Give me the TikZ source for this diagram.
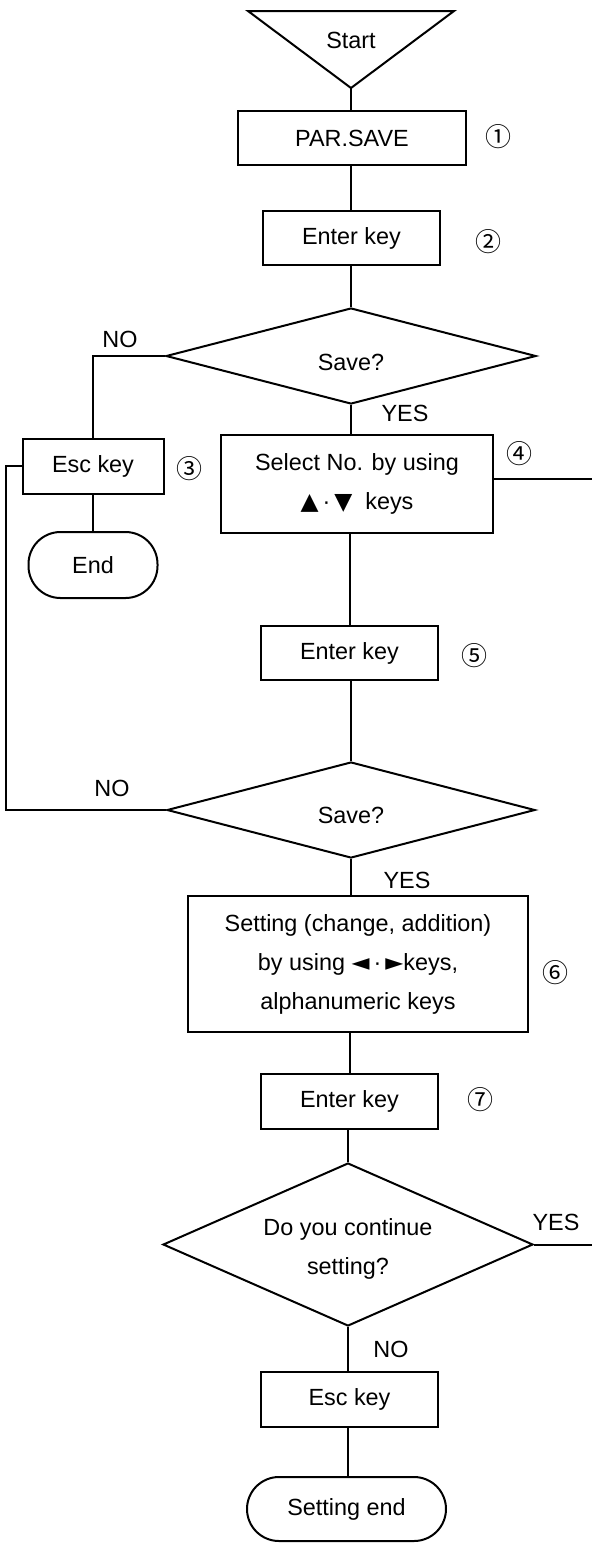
\documentclass[tikz,border=0pt]{standalone}
\usepackage{fontspec}
\setmainfont{Liberation Sans}
\newfontfamily\symf{DejaVu Sans}
\newfontfamily\cjkf{Noto Sans CJK JP}
\usetikzlibrary{shapes.geometric}
\begin{document}
\begin{tikzpicture}[x=0.5pt,y=-0.5pt, line width=1pt,
  box/.style={draw, rectangle, inner sep=0pt, align=center, font=\fontsize{11.7}{19.5}\selectfont},
  term/.style={box, rounded corners=16pt},
  dia/.style={draw, diamond, inner sep=0pt},
  txt/.style={inner sep=0pt, align=center, font=\fontsize{11.7}{19.5}\selectfont},
  num/.style={inner sep=0pt, font=\cjkf\fontsize{13}{14}\selectfont},
  conn/.style={draw, line width=1pt}]
\useasboundingbox (0,0) rectangle (591,1544);

% start triangle
\coordinate (sa) at (351,88);
\draw (248,11) -- (454,11) -- (sa) -- cycle;
\node[txt] (start) at (351,40) {Start};

\node[box, minimum width=114pt, minimum height=27pt] (par) at (352,138) {PAR.SAVE};
\node[box, minimum width=88.5pt, minimum height=27pt] (ent1) at (351.5,238) {Enter key};
\node[dia, minimum width=185pt, minimum height=48pt] (d1) at (351,356) {};
\node[txt] at (351,362) {Save?};
\node[box, minimum width=70.5pt, minimum height=27.5pt] (esc1) at (93,466) {Esc key};
\node[term, minimum width=64.5pt, minimum height=33pt] (end1) at (93,565) {End};
\node[box, minimum width=136pt, minimum height=49pt] (sel) at (357,484)
  {Select No. by using\\{\symf▲}$\,$·$\,${\symf▼}\ \ keys};
\node[box, minimum width=88.5pt, minimum height=27pt] (ent2) at (349.5,653) {Enter key};
\node[dia, minimum width=184pt, minimum height=48pt] (d2) at (351,810) {};
\node[txt] at (351,815) {Save?};
\node[box, minimum width=170pt, minimum height=68pt] (setb) at (358,964)
  {Setting (change, addition)\\by using {\symf◄}$\,$·$\,${\symf►}keys,\\alphanumeric keys};
\node[box, minimum width=88.5pt, minimum height=27.5pt] (ent3) at (349.5,1101.5) {Enter key};
\node[dia, minimum width=185pt, minimum height=81.5pt] (d3) at (348,1244.5) {};
\node[txt] at (348,1249) {Do you continue\\setting?};
\node[box, minimum width=88.5pt, minimum height=27.5pt] (esc2) at (349.5,1399.5) {Esc key};
\node[term, minimum width=99.5pt, minimum height=32pt] (send) at (346.5,1509) {Setting end};

% numbers
\node[num] (n1) at (498,137) {①};
\node[num] (n2) at (488,242) {②};
\node[num] (n3) at (189,469) {③};
\node[num] (n4) at (519,454) {④};
\node[num] (n5) at (474,656) {⑤};
\node[num] (n6) at (555,973) {⑥};
\node[num] (n7) at (480,1100) {⑦};

% labels
\node[txt] (l1) at (120,339) {NO};
\node[txt] (l2) at (405,413) {YES};
\node[txt] (l3) at (112,788) {NO};
\node[txt] (l4) at (407,880) {YES};
\node[txt] (l5) at (556,1222) {YES};
\node[txt] (l6) at (391,1349) {NO};

\coordinate (loopL) at (6,466);
\coordinate (loopR) at (594,479);

% connectors
\draw (sa) -- (sa |- par.north);
\draw (sa |- par.south) -- (sa |- ent1.north);
\draw (d1.north |- ent1.south) -- (d1.north);
\draw (d1.south) -- (d1.south |- sel.north);
\draw (d1.west) -| (esc1.north);
\draw (esc1.south) -- (end1.north);
\draw (ent2.north |- sel.south) -- (ent2.north);
\draw (d2.north |- ent2.south) -- (d2.north);
\draw (d2.west) -| (loopL) -- (esc1.west);
\draw (d2.south) -- (d2.south |- setb.north);
\draw (ent3.north |- setb.south) -- (ent3.north);
\draw (d3.north |- ent3.south) -- (d3.north);
\draw (d3.south) -- (d3.south |- esc2.north);
\draw (d3.south |- esc2.south) -- (d3.south |- send.north);
\draw (d3.east) -| (loopR) -- (sel.east |- loopR);
\end{tikzpicture}
\end{document}
